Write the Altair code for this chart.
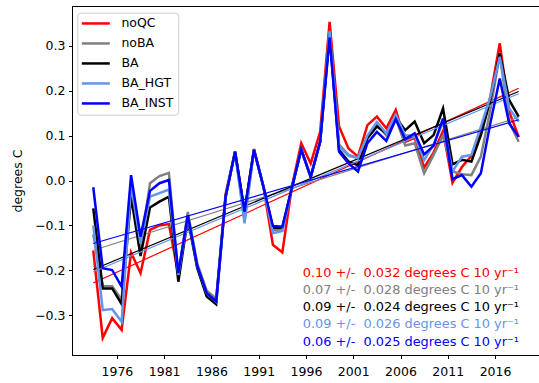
import altair as alt
import pandas as pd

years = list(range(1973, 2019))

noQC = [-0.156, -0.350, -0.306, -0.332, -0.160, -0.206, -0.110, -0.100, -0.097, -0.210,
        -0.080, -0.190, -0.250, -0.265, -0.030, 0.064, -0.070, 0.070, -0.014, -0.143,
        -0.160, -0.015, 0.083, 0.038, 0.108, 0.353, 0.120, 0.071, 0.053, 0.123,
        0.142, 0.116, 0.157, 0.086, 0.095, 0.029, 0.062, 0.110, -0.005, 0.030,
        0.055, 0.105, 0.186, 0.305, 0.153, 0.097]
noBA = [-0.120, -0.235, -0.235, -0.265, -0.020, -0.150, -0.006, 0.010, 0.017, -0.210,
        -0.070, -0.185, -0.245, -0.263, -0.036, 0.064, -0.088, 0.068, -0.014, -0.110,
        -0.110, -0.017, 0.069, 0.008, 0.086, 0.333, 0.080, 0.057, 0.050, 0.097,
        0.125, 0.100, 0.140, 0.078, 0.083, 0.016, 0.057, 0.100, 0.020, 0.014,
        0.012, 0.053, 0.157, 0.280, 0.130, 0.086]
BA = [-0.062, -0.240, -0.240, -0.275, -0.036, -0.168, -0.060, -0.047, -0.036, -0.225,
      -0.085, -0.195, -0.258, -0.275, -0.036, 0.064, -0.070, 0.068, -0.014, -0.105,
      -0.105, -0.017, 0.069, 0.008, 0.086, 0.325, 0.068, 0.042, 0.034, 0.094,
      0.120, 0.105, 0.140, 0.112, 0.131, 0.083, 0.101, 0.160, 0.036, 0.046,
      0.042, 0.101, 0.179, 0.283, 0.179, 0.142]
BA_HGT = [-0.100, -0.288, -0.286, -0.314, -0.010, -0.140, -0.036, -0.028, -0.020, -0.210,
          -0.080, -0.190, -0.250, -0.270, -0.036, 0.064, -0.095, 0.068, -0.014, -0.117,
          -0.112, -0.017, 0.069, 0.008, 0.086, 0.330, 0.075, 0.055, 0.050, 0.100,
          0.130, 0.105, 0.146, 0.100, 0.100, 0.045, 0.080, 0.130, 0.020, 0.053,
          0.057, 0.120, 0.186, 0.275, 0.160, 0.131]
BA_INST = [-0.015, -0.195, -0.199, -0.236, 0.012, -0.125, -0.023, -0.006, 0.001, -0.206,
           -0.077, -0.190, -0.250, -0.269, -0.036, 0.064, -0.069, 0.068, -0.014, -0.101,
           -0.103, -0.017, 0.069, 0.008, 0.086, 0.318, 0.064, 0.038, 0.020, 0.083,
           0.108, 0.088, 0.136, 0.092, 0.105, 0.058, 0.077, 0.138, 0.003, 0.012,
           -0.014, 0.016, 0.127, 0.227, 0.127, 0.097]

series_names = ["noQC", "noBA", "BA", "BA_HGT", "BA_INST"]
series_colors = ["red", "gray", "black", "cornflowerblue", "blue"]
trend_start = [-0.228, -0.155, -0.198, -0.203, -0.140]
trend_end = [0.205, 0.140, 0.198, 0.193, 0.135]
trend_rate = ["0.10", "0.07", "0.09", "0.09", "0.06"]
trend_err = ["0.032", "0.028", "0.024", "0.026", "0.025"]
x_ticks = [1976, 1981, 1986, 1991, 1996, 2001, 2006, 2011, 2016]
y_ticks = [-0.3, -0.2, -0.1, 0.0, 0.1, 0.2, 0.3]

FONT = "DejaVu Sans"
FS = 12.5

values = dict(zip(series_names, [noQC, noBA, BA, BA_HGT, BA_INST]))
rows = []
for name in series_names:
    for yr, v in zip(years, values[name]):
        rows.append({"series": name, "year": yr + 0.5, "value": v})
df = pd.DataFrame(rows)

trows = []
for name, a, b in zip(series_names, trend_start, trend_end):
    trows.append({"series": name, "year": years[0] + 0.5, "value": a})
    trows.append({"series": name, "year": years[-1] + 0.5, "value": b})
tdf = pd.DataFrame(trows)

text_df = pd.DataFrame({
    "row": list(range(len(series_names))),
    "color": series_colors,
    "label": [f"{r} +/-\u00a0 {e} degrees C 10 yr\u207b\u00b9" for r, e in zip(trend_rate, trend_err)],
})

xenc = alt.X("year:Q",
             scale=alt.Scale(domain=[1971.25, 2020.65], nice=False, zero=False),
             axis=alt.Axis(values=x_ticks, format="d", title=None, labelPadding=6.5))
yenc = alt.Y("value:Q",
             scale=alt.Scale(domain=[-0.388, 0.388], nice=False, zero=False),
             axis=alt.Axis(values=y_ticks, format=".1f", title="degrees C",
                           titlePadding=10, labelPadding=3.5))
cenc = alt.Color("series:N",
                 scale=alt.Scale(domain=series_names, range=series_colors),
                 title=None,
                 legend=alt.Legend(orient="none", legendX=5.3, legendY=6.7,
                                   symbolType="M-4,0H4", symbolSize=49,
                                   symbolStrokeWidth=2.5, symbolOffset=7.75,
                                   labelOffset=19.4, padding=4.5, rowPadding=7,
                                   fillColor="rgba(255,255,255,0.8)",
                                   strokeColor="#cccccc", cornerRadius=3,
                                   labelFont=FONT, labelFontSize=FS,
                                   labelColor="black"))

layers = []
for name in series_names:
    layers.append(
        alt.Chart(df).transform_filter(alt.datum.series == name)
        .mark_line(strokeWidth=2.5)
        .encode(x=xenc, y=yenc, color=cenc)
    )
    layers.append(
        alt.Chart(tdf).transform_filter(alt.datum.series == name)
        .mark_line(strokeWidth=1.2)
        .encode(x=xenc, y=yenc, color=cenc)
    )

texts = (
    alt.Chart(text_df)
    .transform_calculate(ypos="266.7 + datum.row * 17.25")
    .mark_text(align="left", baseline="middle", font=FONT, fontSize=12.9)
    .encode(x=alt.value(230.7), y=alt.Y("ypos:Q", scale=None),
            color=alt.Color("color:N", scale=None), text="label:N")
)
layers.append(texts)

chart = (
    alt.layer(*layers)
    .properties(width=467, height=349,
                padding={"left": 72, "top": 6, "right": 0, "bottom": 28},
                autosize=alt.AutoSizeParams(type="none"))
    .configure_view(stroke="black", strokeWidth=1)
    .configure_axis(labelFont=FONT, labelFontSize=FS, labelColor="black",
                    titleFont=FONT, titleFontSize=FS, titleColor="black",
                    titleFontWeight="normal", tickColor="black", tickSize=3.5,
                    domainColor="black", grid=False)
)

chart.save("out.html", embed_options={"renderer": "svg", "actions": False})
